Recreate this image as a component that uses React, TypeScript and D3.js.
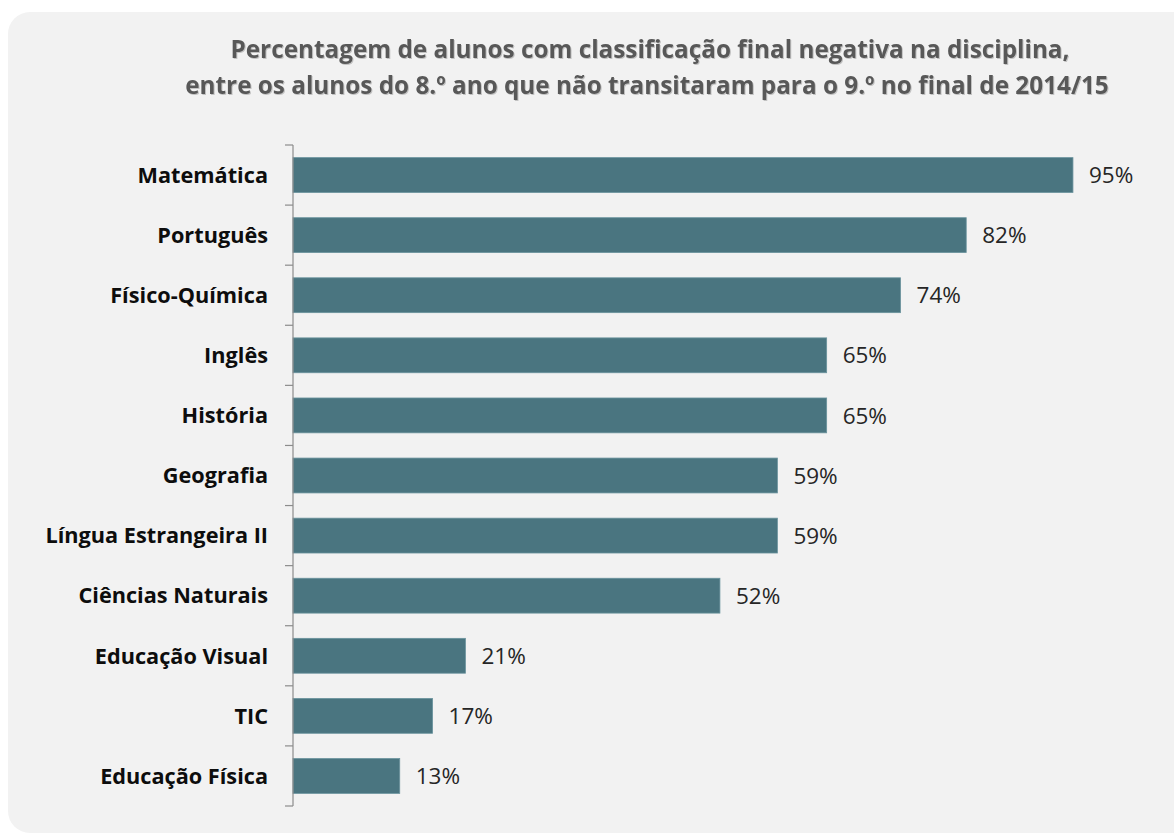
import React, { useEffect, useRef } from "react";
import * as d3 from "d3";

// ---- data ----
const subjects = [
  "Matemática",
  "Português",
  "Físico-Química",
  "Inglês",
  "História",
  "Geografia",
  "Língua Estrangeira II",
  "Ciências Naturais",
  "Educação Visual",
  "TIC",
  "Educação Física",
];
const percentages = [95, 82, 74, 65, 65, 59, 59, 52, 21, 17, 13];
const titleLines = [
  "Percentagem de alunos com classificação final negativa na disciplina,",
  "entre os alunos do 8.º ano que não transitaram para o 9.º no final de 2014/15",
];

const W = 1174;
const H = 834;
const FONT = "'Open Sans', 'Liberation Sans', sans-serif";

export default function App() {
  const ref = useRef<SVGSVGElement>(null);

  useEffect(() => {
    const svg = d3.select(ref.current);
    svg.selectAll("*").remove();

    const dims = {
      margin: { top: 145, left: 293 },
      boundedWidth: 821,
      boundedHeight: 661,
    };

    // background panel
    const defs = svg.append("defs");
    const shadow = defs.append("filter").attr("id", "txtShadow");
    shadow
      .append("feDropShadow")
      .attr("dx", 1)
      .attr("dy", 1)
      .attr("stdDeviation", 0.6)
      .attr("flood-color", "#000")
      .attr("flood-opacity", 0.2);

    svg
      .append("rect")
      .attr("x", 8)
      .attr("y", 12)
      .attr("width", W + 20)
      .attr("height", H - 13)
      .attr("rx", 22)
      .attr("fill", "#f2f2f2");

    // title
    svg
      .append("g")
      .selectAll("text")
      .data(titleLines)
      .join("text")
      .attr("x", (d, i) => (i === 0 ? 650 : 647))
      .attr("y", (d, i) => 58 + i * 36)
      .attr("text-anchor", "middle")
      .attr("font-family", FONT)
      .attr("font-weight", "bold")
      .attr("font-size", 24.3)
      .attr("fill", "#595959")
      .attr("filter", "url(#txtShadow)")
      .text((d) => d);

    const bounds = svg
      .append("g")
      .attr("transform", `translate(${dims.margin.left},${dims.margin.top})`);

    // scales
    const xScale = d3.scaleLinear().domain([0, 100]).range([0, dims.boundedWidth]);
    const yScale = d3
      .scaleBand()
      .domain(subjects)
      .range([0, dims.boundedHeight])
      .paddingInner(0.42)
      .paddingOuter(0.21);

    const data = subjects.map((s, i) => ({ subject: s, value: percentages[i] }));

    // bars
    bounds
      .selectAll("rect.bar")
      .data(data)
      .join("rect")
      .attr("class", "bar")
      .attr("x", 0)
      .attr("y", (d) => yScale(d.subject)!)
      .attr("width", (d) => xScale(d.value))
      .attr("height", yScale.bandwidth())
      .attr("fill", "#4a7580")
      .attr("stroke", "#6a939d")
      .attr("stroke-width", 0.8);

    // value labels
    bounds
      .selectAll("text.val")
      .data(data)
      .join("text")
      .attr("class", "val")
      .attr("x", (d) => xScale(d.value) + 16)
      .attr("y", (d) => yScale(d.subject)! + yScale.bandwidth() / 2)
      .attr("dy", "0.36em")
      .attr("font-family", FONT)
      .attr("font-size", 22.5)
      .attr("fill", "#262626")
      .text((d) => `${d.value}%`);

    // y axis: line with ticks between categories
    const tickPos = d3
      .range(subjects.length + 1)
      .map((i) => i * (dims.boundedHeight / subjects.length));
    const axis = bounds.append("g");
    axis
      .append("line")
      .attr("x1", 0)
      .attr("x2", 0)
      .attr("y1", 0)
      .attr("y2", dims.boundedHeight)
      .attr("stroke", "#8c8c8c")
      .attr("stroke-width", 1.2);
    axis
      .selectAll("line.tick")
      .data(tickPos)
      .join("line")
      .attr("class", "tick")
      .attr("x1", -8)
      .attr("x2", 0)
      .attr("y1", (d) => d)
      .attr("y2", (d) => d)
      .attr("stroke", "#8c8c8c")
      .attr("stroke-width", 1.2);

    axis
      .selectAll("text")
      .data(subjects)
      .join("text")
      .attr("x", -25)
      .attr("y", (d) => yScale(d)! + yScale.bandwidth() / 2)
      .attr("dy", "0.36em")
      .attr("text-anchor", "end")
      .attr("font-family", FONT)
      .attr("font-weight", "bold")
      .attr("font-size", 21.7)
      .attr("fill", "#0d0d0d")
      .text((d) => d);
  }, []);

  return (
    <div style={{ position: "absolute", left: 0, top: 0 }}>
      <svg ref={ref} width={W} height={H} style={{ display: "block", background: "#fff" }} />
    </div>
  );
}
